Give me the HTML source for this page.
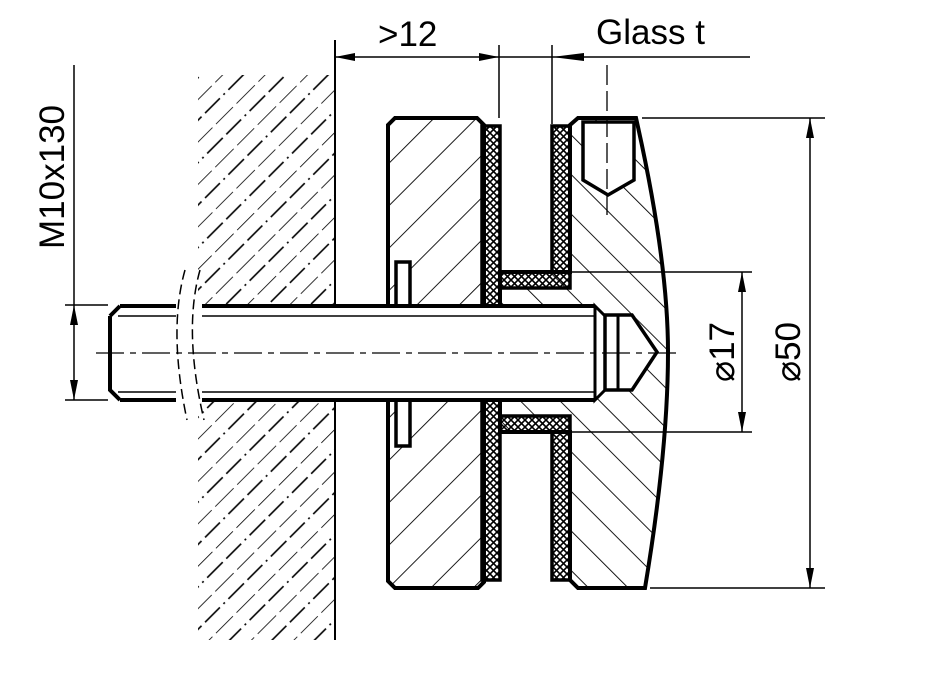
<!DOCTYPE html>
<html><head><meta charset="utf-8"><style>html,body{margin:0;padding:0;background:#fff}svg{display:block}</style></head>
<body>
<svg width="932" height="678" viewBox="0 0 932 678" xmlns="http://www.w3.org/2000/svg" font-family="Liberation Sans, sans-serif">
<defs>
<pattern id="wallh" patternUnits="userSpaceOnUse" width="30" height="60" patternTransform="rotate(45)">
<line x1="0" y1="0" x2="0" y2="60" stroke="#000" stroke-width="1.6" stroke-dasharray="26 5 24 5"/>
<line x1="15" y1="0" x2="15" y2="60" stroke="#000" stroke-width="1.6" stroke-dasharray="22 5 2 5 21 5"/>
</pattern>
<pattern id="plh" patternUnits="userSpaceOnUse" width="30" height="30" patternTransform="rotate(45)">
<line x1="0" y1="0" x2="0" y2="30" stroke="#000" stroke-width="1.8"/>
</pattern>
<pattern id="caph" patternUnits="userSpaceOnUse" width="28" height="28" patternTransform="rotate(-45)">
<line x1="0" y1="0" x2="0" y2="28" stroke="#000" stroke-width="1.8"/>
</pattern>
<pattern id="xh" patternUnits="userSpaceOnUse" width="7" height="7">
<path d="M0 0L7 7M7 0L0 7" stroke="#000" stroke-width="1.6"/>
</pattern>
<marker id="a" viewBox="0 0 20 8" refX="20" refY="4" markerWidth="20" markerHeight="8" markerUnits="userSpaceOnUse" orient="auto-start-reverse"><path d="M0 0L20 4L0 8Z"/></marker>
</defs>

<!-- wall -->
<rect x="198" y="75" width="136" height="565" fill="url(#wallh)"/>
<rect x="174" y="295" width="30" height="115" fill="#fff"/>
<line x1="335" y1="40" x2="335" y2="640" stroke="#000" stroke-width="2"/>

<!-- left plate -->
<path d="M395 118 H477 L484 125 V582 L478 588 H395 L388 581 V125 Z" fill="url(#plh)" stroke="#000" stroke-width="4"/>
<rect x="396" y="262" width="14" height="44" fill="#fff" stroke="#000" stroke-width="3.5"/>
<rect x="396" y="400" width="14" height="46" fill="#fff" stroke="#000" stroke-width="3.5"/>

<!-- cap -->
<path d="M570 125 L578 118 H636 Q668 260 668 352 Q668 450 645 588 H578 L570 580 V432 H500 V272 H570 Z" fill="url(#caph)" stroke="#000" stroke-width="4"/>
<path d="M583 122 H634 V180 L608 195 L583 180 Z" fill="#fff" stroke="#000" stroke-width="3.5"/>

<!-- gaskets -->
<path d="M482 126 H500 V272 H552 V126 H570 V288 H500 V416 H570 V580 H552 V432 H500 V580 H482 Z" fill="url(#xh)" stroke="#000" stroke-width="3.5"/>

<!-- bolt -->
<rect x="110" y="306" width="485" height="94" fill="#fff"/>
<path d="M120 306 H595 M120 400 H595 M110 316 V390 L120 400 M110 316 L120 306" fill="none" stroke="#000" stroke-width="4"/>
<path d="M118 316 H595 M118 392 H595" stroke="#000" stroke-width="1.5"/>
<path d="M595 306 L605 316 V390 L595 400 Z" fill="#fff" stroke="#000" stroke-width="3"/>
<path d="M605 315 H632 L657 352 L632 390 H605 Z" fill="#fff" stroke="#000" stroke-width="3.5"/>
<line x1="618" y1="315" x2="618" y2="390" stroke="#000" stroke-width="3"/>
<!-- break -->
<rect x="176" y="300" width="26" height="105" fill="#fff"/>
<path d="M185 270 Q168 330 187 420" fill="none" stroke="#000" stroke-width="1.5" stroke-dasharray="10 5"/>
<path d="M200 270 Q183 330 204 420" fill="none" stroke="#000" stroke-width="1.5" stroke-dasharray="10 5"/>

<!-- center lines -->
<line x1="96" y1="353" x2="680" y2="353" stroke="#000" stroke-width="1.3" stroke-dasharray="28 6 6 6"/>
<line x1="607" y1="65" x2="607" y2="215" stroke="#000" stroke-width="1.3" stroke-dasharray="20 6"/>

<!-- top dims -->
<line x1="499" y1="45" x2="499" y2="118" stroke="#000" stroke-width="1.5"/>
<line x1="552" y1="45" x2="552" y2="124" stroke="#000" stroke-width="1.5"/>
<line x1="335" y1="57" x2="499" y2="57" stroke="#000" stroke-width="1.5" marker-start="url(#a)" marker-end="url(#a)"/>
<line x1="499" y1="57" x2="750" y2="57" stroke="#000" stroke-width="1.5"/>
<path d="M552 57 L584 53 L584 61 Z"/>
<text x="378" y="46" font-size="35">&gt;12</text>
<text x="596" y="44" font-size="35">Glass t</text>

<!-- right dims -->
<line x1="642" y1="118" x2="825" y2="118" stroke="#000" stroke-width="1.5"/>
<line x1="650" y1="588" x2="825" y2="588" stroke="#000" stroke-width="1.5"/>
<line x1="810" y1="118" x2="810" y2="588" stroke="#000" stroke-width="1.5" marker-start="url(#a)" marker-end="url(#a)"/>
<line x1="570" y1="272" x2="752" y2="272" stroke="#000" stroke-width="1.5"/>
<line x1="570" y1="432" x2="752" y2="432" stroke="#000" stroke-width="1.5"/>
<line x1="742" y1="272" x2="742" y2="432" stroke="#000" stroke-width="1.5" marker-start="url(#a)" marker-end="url(#a)"/>
<text transform="translate(734 352) rotate(-90)" font-size="35" text-anchor="middle">⌀17</text>
<text transform="translate(800 352) rotate(-90)" font-size="35" text-anchor="middle">⌀50</text>

<!-- left dim -->
<line x1="65" y1="305" x2="108" y2="305" stroke="#000" stroke-width="1.5"/>
<line x1="65" y1="400" x2="108" y2="400" stroke="#000" stroke-width="1.5"/>
<line x1="74" y1="65" x2="74" y2="305" stroke="#000" stroke-width="1.5"/>
<line x1="74" y1="305" x2="74" y2="400" stroke="#000" stroke-width="1.5" marker-start="url(#a)" marker-end="url(#a)"/>
<text transform="translate(64 177) rotate(-90)" font-size="35" text-anchor="middle">M10x130</text>
</svg>
</body></html>
